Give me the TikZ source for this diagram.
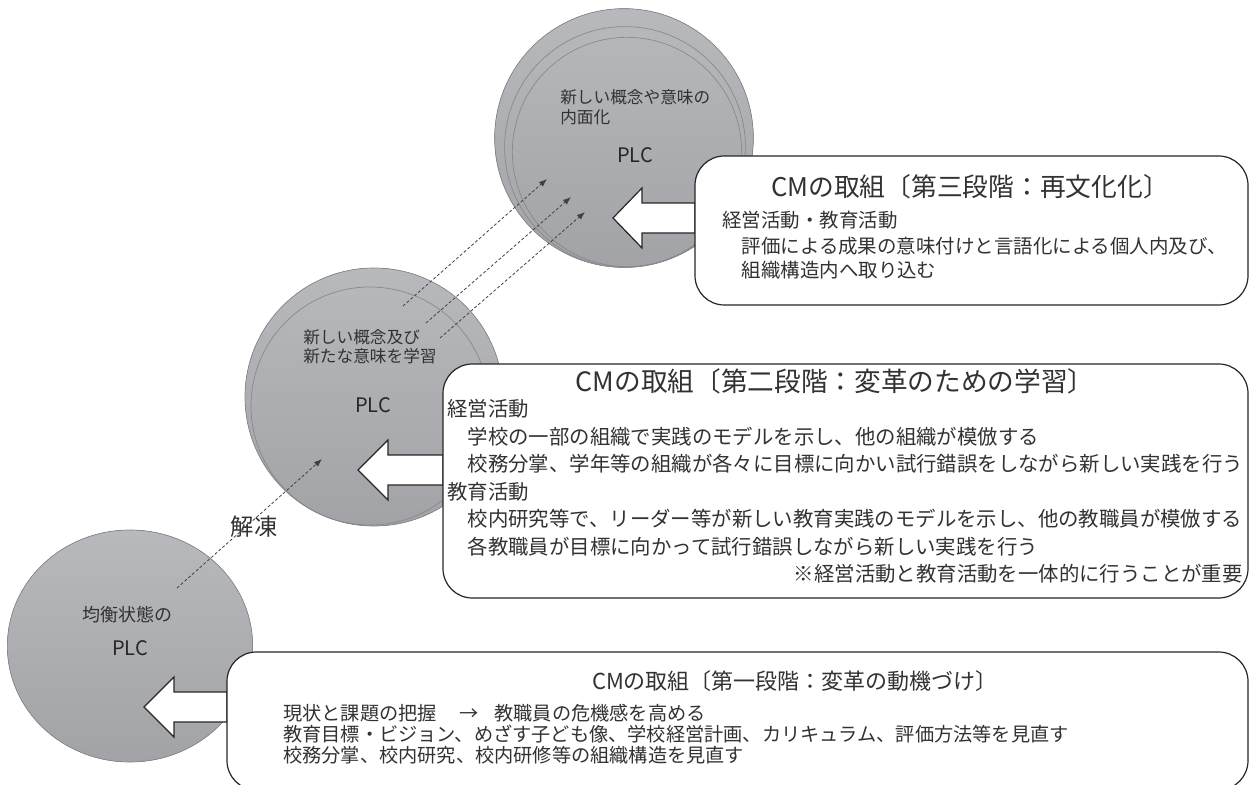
\documentclass[tikz,border=0pt]{standalone}
\usepackage{fontspec}
\setmainfont{Noto Sans CJK JP}
\usetikzlibrary{arrows.meta}
\newcommand\fsz[1]{\fontsize{#1}{#1}\selectfont}
\definecolor{circtop}{RGB}{184,185,189}
\definecolor{circbot}{RGB}{162,163,167}
\definecolor{circline}{RGB}{135,135,140}
\definecolor{txt}{RGB}{50,50,50}
\tikzset{
  disk/.style={top color=circtop, bottom color=circbot, draw=circline, line width=0.5pt},
  ring/.style={draw=circline, line width=0.5pt},
  cmbox/.style={draw=black!85, fill=white, line width=0.9pt, rounded corners=22pt, inner sep=0pt, outer sep=0pt},
  blockarrow/.style={draw=black!85, fill=white, line width=0.9pt, line join=miter},
  dasharrow/.style={draw=black!75, line width=0.6pt, dash pattern=on 2.2pt off 1.6pt, -{Latex[length=6pt,width=4.5pt]}},
  lbl/.style={text=txt, inner sep=0pt, anchor=west},
  ctr/.style={text=txt, inner sep=0pt},
  plc/.style={text=black!85, inner sep=0pt, font=\fsz{15pt}},
}
\begin{document}
\begin{tikzpicture}[x=0.75pt,y=-0.75pt]
\useasboundingbox (0,0) rectangle (1250,785);
% circles
\fill[disk] (130,646) ellipse [x radius=92pt, y radius=87pt];
\fill[disk] (374,397) circle [radius=96.75pt];
\draw[ring] (370,406) circle [radius=89.25pt];
\fill[disk] (624,138) circle [radius=97pt];
\draw[ring] (625,147) circle [radius=90.3pt];
\draw[ring] (627,152) circle [radius=86pt];
% coordinates for dashed connectors
\coordinate (s0) at (177,588); \coordinate (e0) at (322,459);
\coordinate (sa) at (403,306); \coordinate (ea) at (547,179);
\coordinate (sb) at (426,323); \coordinate (eb) at (571,197);
\coordinate (sc) at (440,338); \coordinate (ec) at (585,212);
\draw[dasharrow] (s0) -- (e0);
\draw[dasharrow] (sa) -- (ea);
\draw[dasharrow] (sb) -- (eb);
\draw[dasharrow] (sc) -- (ec);
% block arrows
\coordinate (t3) at (613,218);
\coordinate (t2) at (358,470);
\coordinate (t1) at (144,707);
\draw[blockarrow] (t3) -- ++(29,-30) -- ++(0,15) -- ++(53,0) -- ++(0,30) -- ++(-53,0) -- ++(0,15) -- cycle;
\draw[blockarrow] (t2) -- ++(30,-30) -- ++(0,15) -- ++(55,0) -- ++(0,30) -- ++(-55,0) -- ++(0,15) -- cycle;
\draw[blockarrow] (t1) -- ++(30,-30) -- ++(0,15) -- ++(53,0) -- ++(0,30) -- ++(-53,0) -- ++(0,15) -- cycle;
% boxes
\node[cmbox, minimum width=414.75pt, minimum height=111.75pt] (b3) at (971.5,230.5) {};
\node[cmbox, minimum width=603.75pt, minimum height=175.5pt] (b2) at (845.5,481) {};
\node[cmbox, minimum width=765.75pt, minimum height=103.5pt] (b1) at (737.5,721) {};
% circle texts
\node[lbl, font=\fsz{12.5pt}] (c3a) at (560,97) {新しい概念や意味の};
\node[lbl, font=\fsz{12.5pt}] (c3b) at (560,117) {内面化};
\node[plc] (p3) at (635,155) {PLC};
\node[lbl, font=\fsz{12.5pt}] (c2a) at (303,337) {新しい概念及び};
\node[lbl, font=\fsz{12.5pt}] (c2b) at (303,356) {新たな意味を学習};
\node[plc] (p2) at (373,405) {PLC};
\node[lbl, font=\fsz{13.5pt}] (c1a) at (82,615) {均衡状態の};
\node[plc] (p1) at (130,648) {PLC};
\node[ctr, font=\fsz{17.5pt}] (thaw) at (254,527) {解凍};
% box 3
\node[ctr, font=\fsz{19.3pt}] (h3) at (970,187) {CMの取組〔第三段階：再文化化〕};
\node[lbl, font=\fsz{14.6pt}] (l31) at (722,220) {経営活動・教育活動};
\node[lbl, font=\fsz{14.6pt}] (l32) at (722,246) {　評価による成果の意味付けと言語化による個人内及び、};
\node[lbl, font=\fsz{14.6pt}] (l33) at (722,270) {　組織構造内へ取り込む};
% box 2
\node[ctr, font=\fsz{20pt}] (h2) at (835,381) {CMの取組〔第二段階：変革のための学習〕};
\node[lbl, font=\fsz{15.3pt}] (l21) at (447,409) {経営活動};
\node[lbl, font=\fsz{15.3pt}] (l22) at (447,436.5) {　学校の一部の組織で実践のモデルを示し、他の組織が模倣する};
\node[lbl, font=\fsz{15.3pt}] (l23) at (447,464) {　校務分掌、学年等の組織が各々に目標に向かい試行錯誤をしながら新しい実践を行う};
\node[lbl, font=\fsz{15.3pt}] (l24) at (447,491.5) {教育活動};
\node[lbl, font=\fsz{15.3pt}] (l25) at (447,519) {　校内研究等で、リーダー等が新しい教育実践のモデルを示し、他の教職員が模倣する};
\node[lbl, font=\fsz{15.3pt}] (l26) at (447,546.5) {　各教職員が目標に向かって試行錯誤しながら新しい実践を行う};
\node[text=txt, inner sep=0pt, anchor=east, font=\fsz{15.3pt}] (l27) at (1243,574) {※経営活動と教育活動を一体的に行うことが重要};
% box 1
\node[ctr, font=\fsz{16.5pt}] (h1) at (795,681) {CMの取組〔第一段階：変革の動機づけ〕};
\node[lbl, font=\fsz{14.4pt}] (l11) at (283,713) {現状と課題の把握\hspace{1.2em}→\hspace{0.8em}教職員の危機感を高める};
\node[lbl, font=\fsz{14.4pt}] (l12) at (283,734) {教育目標・ビジョン、めざす子ども像、学校経営計画、カリキュラム、評価方法等を見直す};
\node[lbl, font=\fsz{14.4pt}] (l13) at (283,755) {校務分掌、校内研究、校内研修等の組織構造を見直す};
\end{tikzpicture}
\end{document}
